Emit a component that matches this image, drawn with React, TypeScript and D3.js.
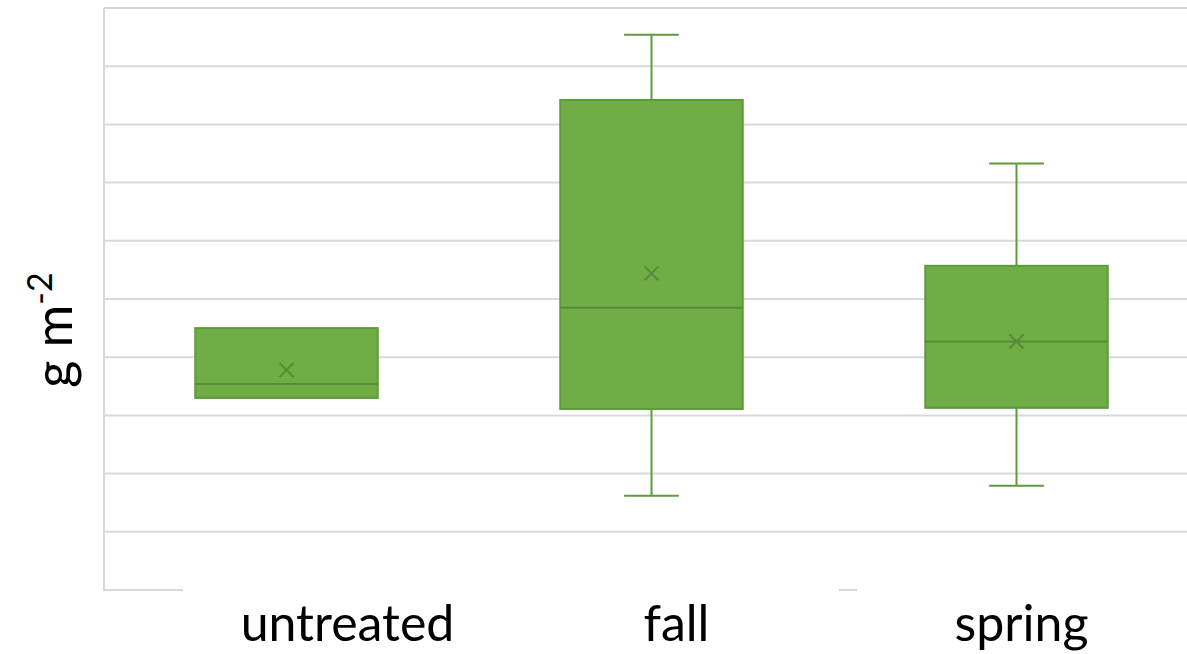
import React from "react";
import * as d3 from "d3";

const categories = ["untreated", "fall", "spring"];
const minValues = [3.3, 1.62, 1.79];
const q1Values = [3.3, 3.11, 3.13];
const medianValues = [3.54, 4.85, 4.27];
const meanValues = [3.78, 5.44, 4.27];
const q3Values = [4.5, 8.42, 5.57];
const maxValues = [4.5, 9.54, 7.33];
const yTicks = [0, 1, 2, 3, 4, 5, 6, 7, 8, 9, 10];

const W = 1187;
const H = 654;
const left = 104;
const right = 1199;
const top = 8;
const bottom = 590;
const labelShift = [61, 25, 5];

export default function App() {
  const x = d3.scaleBand<string>().domain(categories).range([left, right]).paddingInner(0).paddingOuter(0);
  const y = d3.scaleLinear().domain([0, 10]).range([bottom, top]);
  const boxW = x.bandwidth() * 0.5;
  const capW = boxW * 0.3;
  const grid = "#d9d9d9";
  const fill = "#70ad47";
  const edge = "#5f9a3b";
  const dark = "#578b37";
  return (
    <svg width={W} height={H} style={{ position: "absolute", left: 0, top: 0, background: "#fff" }}>
      {yTicks.filter((t) => t > 0).map((t) => (
        <line key={t} x1={left} x2={W} y1={y(t)} y2={y(t)} stroke={grid} strokeWidth={2} />
      ))}
      <line x1={left} x2={left} y1={y(10)} y2={y(0)} stroke={grid} strokeWidth={2} />
      <line x1={left - 1} x2={183} y1={y(0)} y2={y(0)} stroke={grid} strokeWidth={2} />
      <line x1={839} x2={857} y1={y(0)} y2={y(0)} stroke={grid} strokeWidth={2} />
      {categories.map((c, i) => {
        const cx = (x(c) as number) + x.bandwidth() / 2;
        const mx = y(meanValues[i]);
        const s = 7;
        return (
          <g key={c}>
            {maxValues[i] > q3Values[i] && (
              <g>
                <line x1={cx} x2={cx} y1={y(maxValues[i])} y2={y(q3Values[i])} stroke={edge} strokeWidth={2} />
                <line x1={cx - capW / 2} x2={cx + capW / 2} y1={y(maxValues[i])} y2={y(maxValues[i])} stroke={edge} strokeWidth={2} />
              </g>
            )}
            {minValues[i] < q1Values[i] && (
              <g>
                <line x1={cx} x2={cx} y1={y(q1Values[i])} y2={y(minValues[i])} stroke={edge} strokeWidth={2} />
                <line x1={cx - capW / 2} x2={cx + capW / 2} y1={y(minValues[i])} y2={y(minValues[i])} stroke={edge} strokeWidth={2} />
              </g>
            )}
            <rect
              x={cx - boxW / 2}
              y={y(q3Values[i])}
              width={boxW}
              height={y(q1Values[i]) - y(q3Values[i])}
              fill={fill}
              stroke={edge}
              strokeWidth={2}
            />
            <line x1={cx - boxW / 2} x2={cx + boxW / 2} y1={y(medianValues[i])} y2={y(medianValues[i])} stroke={dark} strokeWidth={2} />
            <path d={`M${cx - s},${mx - s}L${cx + s},${mx + s}M${cx - s},${mx + s}L${cx + s},${mx - s}`} stroke={dark} strokeWidth={2} fill="none" />
            <text x={cx + labelShift[i]} y={641} textAnchor="middle" fontFamily="Lato, 'Open Sans', sans-serif" fontSize={50} fill="#000">
              {c}
            </text>
          </g>
        );
      })}
      <text
        transform={`translate(72, ${330}) rotate(-90)`}
        textAnchor="middle"
        fontFamily="Lato, 'Open Sans', sans-serif"
        fontSize={52}
        fill="#000"
      >
        g m<tspan dy={-20} fontSize={34}>-2</tspan>
      </text>
    </svg>
  );
}
